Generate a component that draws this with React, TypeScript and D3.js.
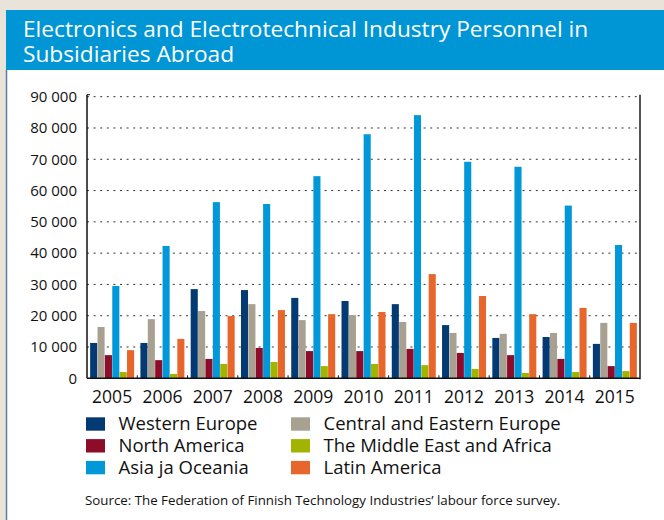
import * as d3 from "d3"

const years = ["2005", "2006", "2007", "2008", "2009", "2010", "2011", "2012", "2013", "2014", "2015"]
const regions = [
  "Western Europe",
  "Central and Eastern Europe",
  "North America",
  "Asia ja Oceania",
  "The Middle East and Africa",
  "Latin America",
]
const westernEurope = [11300, 11300, 28500, 28200, 25700, 24700, 23700, 17000, 12900, 13200, 11000]
const centralEasternEurope = [16400, 18900, 21500, 23700, 18600, 20200, 18000, 14500, 14200, 14500, 17700]
const northAmerica = [7400, 5800, 6200, 9700, 8700, 8700, 9400, 8100, 7400, 6200, 3900]
const asiaOceania = [29500, 42300, 56300, 55700, 64600, 78000, 84100, 69200, 67600, 55200, 42600]
const middleEastAfrica = [2000, 1400, 4600, 5200, 3900, 4600, 4200, 3000, 1700, 2000, 2300]
const latinAmerica = [9000, 12600, 19900, 21800, 20500, 21200, 33300, 26300, 20500, 22500, 17700]
const yTicks = [0, 10000, 20000, 30000, 40000, 50000, 60000, 70000, 80000, 90000]
// legend is laid out in two columns: left WE / NA / Asia, right CEE / MEA / LA
const legendColumns = [
  ["Western Europe", "North America", "Asia ja Oceania"],
  ["Central and Eastern Europe", "The Middle East and Africa", "Latin America"],
]

const seriesValues = [westernEurope, centralEasternEurope, northAmerica, asiaOceania, middleEastAfrica, latinAmerica]
const colors = ["#033a74", "#a8a191", "#8d0c2a", "#0098d9", "#a2b300", "#e6662b"]

const WIDTH = 664
const HEIGHT = 520
const FONT = "'Open Sans', 'Noto Sans', sans-serif"

const App = () => {
  const plot = { left: 87, right: 640, top: 96.7, bottom: 378.3 }

  const x0 = d3.scaleBand<string>().domain(years).range([plot.left, plot.right]).paddingInner(0.125).paddingOuter(0.0625)
  const x1 = d3.scaleBand<string>().domain(regions).range([0, x0.bandwidth()]).paddingInner(0.04)
  const y = d3.scaleLinear().domain([0, 90000]).range([plot.bottom, plot.top])

  const fmt = (v: number) => (v === 0 ? "0" : d3.format(",")(v).replace(",", " "))

  // boundaries between year groups for small ticks on the base line
  const groupEdges = years.slice(1).map((yr) => (x0(yr) as number) - (x0.step() * 0.125) / 2)

  return (
    <svg
      width={WIDTH}
      height={HEIGHT}
      style={{ position: "absolute", left: 0, top: 0, display: "block" }}
      fontFamily={FONT}
    >
      <rect x={0} y={0} width={WIDTH} height={HEIGHT} fill="#e8e4da" />
      <rect x={6} y={10} width={WIDTH - 6} height={HEIGHT - 10} fill="#ffffff" />
      <line x1={6.5} y1={70} x2={6.5} y2={HEIGHT} stroke="#5b7ba3" strokeWidth={1.5} />
      <rect x={6} y={10} width={WIDTH - 6} height={60} fill="#0096d6" />
      <text x={23} y={37} fill="#ffffff" fontSize={22.7}>
        Electronics and Electrotechnical Industry Personnel in
      </text>
      <text x={23} y={62} fill="#ffffff" fontSize={22.7}>
        Subsidiaries Abroad
      </text>

      {/* gridlines */}
      {yTicks
        .filter((t) => t > 0)
        .map((t) => (
          <line
            key={t}
            x1={plot.left}
            x2={plot.right}
            y1={y(t)}
            y2={y(t)}
            stroke="#333"
            strokeWidth={1}
            strokeDasharray="2,4.6"
          />
        ))}

      {/* y tick labels */}
      {yTicks.map((t) => (
        <text key={t} x={77} y={y(t)} dy="0.35em" textAnchor="end" fontSize={15} fill="#111">
          {fmt(t)}
        </text>
      ))}

      {/* bars */}
      {years.map((yr, i) => (
        <g key={yr} transform={`translate(${x0(yr)},0)`}>
          {regions.map((r, j) => (
            <rect
              key={r}
              x={x1(r)}
              y={y(seriesValues[j][i])}
              width={x1.bandwidth()}
              height={y(0) - y(seriesValues[j][i])}
              fill={colors[j]}
            />
          ))}
        </g>
      ))}

      {/* axes */}
      <line x1={plot.left} x2={plot.left} y1={plot.top - 2} y2={plot.bottom} stroke="#111" strokeWidth={1.5} />
      <line x1={plot.left} x2={plot.left + 3} y1={plot.top - 2} y2={plot.top - 2} stroke="#111" strokeWidth={1} />
      <line x1={plot.right} x2={plot.right} y1={plot.top - 2} y2={plot.bottom + 1} stroke="#555" strokeWidth={2} />
      <line x1={plot.left} x2={plot.right} y1={plot.bottom} y2={plot.bottom} stroke="#111" strokeWidth={1.5} />
      {groupEdges.map((gx, i) => (
        <line key={i} x1={gx} x2={gx} y1={plot.bottom} y2={plot.bottom - 3} stroke="#111" strokeWidth={1} />
      ))}

      {/* year labels */}
      {years.map((yr) => (
        <text
          key={yr}
          x={(x0(yr) as number) + x0.bandwidth() / 2}
          y={397}
          dy="0.35em"
          textAnchor="middle"
          fontSize={17.5}
          fill="#111"
        >
          {yr}
        </text>
      ))}

      {/* legend */}
      {legendColumns.map((names, col) =>
        names.map((r, row) => {
          const j = regions.indexOf(r)
          const lx = col === 0 ? 86 : 291
          const ly = 424 + row * 21.8
          return (
            <g key={r}>
              <rect x={lx} y={ly - 6.7} width={19} height={13.4} fill={colors[j]} />
              <text x={lx + 32.5} y={ly} dy="0.35em" fontSize={18.5} fill="#111">
                {r}
              </text>
            </g>
          )
        }),
      )}

      <text x={85} y={500} dy="0.35em" fontSize={13.3} fill="#111">
        Source: The Federation of Finnish Technology Industries’ labour force survey.
      </text>
    </svg>
  )
}

export default App
